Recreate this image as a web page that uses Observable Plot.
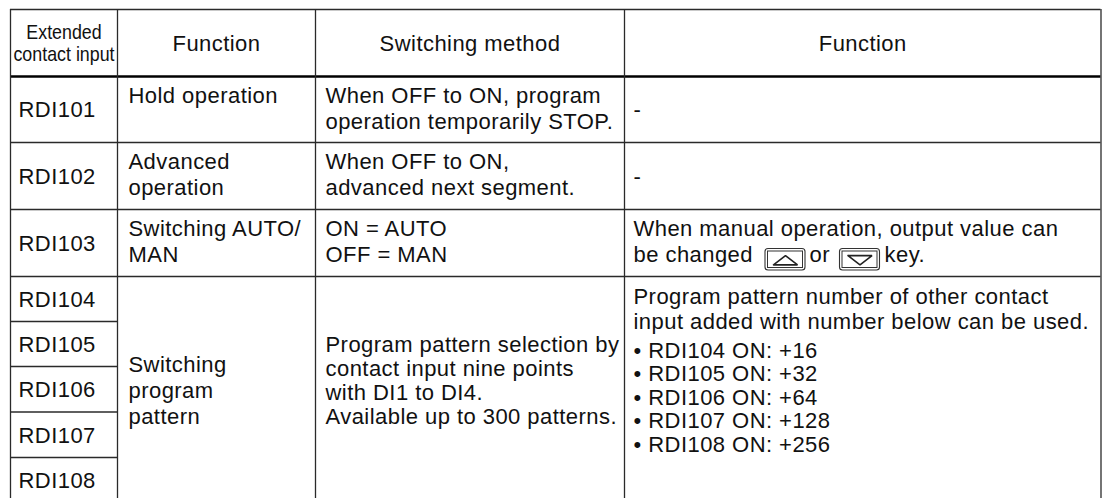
<!DOCTYPE html>
<html><head><meta charset="utf-8">
<script src="https://cdn.jsdelivr.net/npm/d3@7"></script>
<script src="https://cdn.jsdelivr.net/npm/@observablehq/plot@0.6"></script>
<style>body{margin:0;background:#fff}</style>
</head><body><div id="chart"></div>
<script>
// ---- table content ----
const headers = ["Extended\ncontact input", "Function", "Switching method", "Function"];
const inputs = ["RDI101", "RDI102", "RDI103", "RDI104", "RDI105", "RDI106", "RDI107", "RDI108"];
const functions = ["Hold operation", "Advanced\noperation", "Switching AUTO/\nMAN", "Switching\nprogram\npattern"];
const methods = [
  "When OFF to ON, program\noperation temporarily STOP.",
  "When OFF to ON,\nadvanced next segment.",
  "ON = AUTO\nOFF = MAN",
  "Program pattern selection by\ncontact input nine points\nwith DI1 to DI4.\nAvailable up to 300 patterns."
];
const notesSimple = ["-", "-"];
const noteManual = ["When manual operation, output value can", "be changed", "or", "key."];
const keys = ["up", "down"];
const noteIntro = ["Program pattern number of other contact", "input added with number below can be used."];
const addends = [16, 32, 64, 128, 256];

// ---- layout (not data) ----
const W = 1102, H = 498;
const colX = [10, 117, 315, 624, 1100.5];
const rowY = [9, 76, 142, 209, 276, 321, 366, 411.5, 457, 503];
const FS = 22, CAP = FS * 0.358;
const pad = [8, 11, 10, 9];

const texts = [];   // left aligned
const heads = [];   // centred
const narrow = [];
function put(arr, str, x, base, lh) {
  str.split("\n").forEach((t, i) => arr.push({x, y: base + i * lh, text: t}));
}
function centered(arr, str, x, top, bottom, lh, cap) {
  const n = str.split("\n").length;
  const c = (top + bottom) / 2 + cap;
  put(arr, str, x, c - (n - 1) / 2 * lh, lh);
}
// header
centered(narrow, headers[0], (colX[0] + colX[1]) / 2, rowY[0], rowY[1], 22, 7.4);
for (let j = 1; j < 4; j++) centered(heads, headers[j], (colX[j] + colX[j + 1]) / 2, rowY[0], rowY[1], 26, CAP);
// column 1: inputs
inputs.forEach((s, i) => centered(texts, s, colX[0] + pad[0], rowY[i + 1], rowY[i + 2], 26, CAP));
// rows 1-3
for (let r = 0; r < 3; r++) {
  put(texts, functions[r], colX[1] + pad[1], rowY[r + 1] + 26.5, 26);
  put(texts, methods[r], colX[2] + pad[2], rowY[r + 1] + 26.5, 26);
}
notesSimple.forEach((s, r) => centered(texts, s, colX[3] + pad[3], rowY[r + 1], rowY[r + 2], 26, CAP));
const mTop = rowY[3] + 26.5;
texts.push({x: colX[3] + pad[3], y: mTop, text: noteManual[0]});
const inlineX = [colX[3] + pad[3], 809, 884];
[1, 2, 3].forEach((k, i) => texts.push({x: inlineX[i], y: mTop + 26, text: noteManual[k]}));
// merged block rows 4-8
centered(texts, functions[3], colX[1] + pad[1], rowY[4], rowY[9], 26, CAP);
put(texts, methods[3], colX[2] + pad[2], 351, 24);
put(texts, noteIntro.join("\n"), colX[3] + pad[3], 303, 25.5);
addends.forEach((a, i) => texts.push({x: colX[3] + pad[3], y: 357 + i * 23.5, text: `\u2022 ${inputs[i + 3]} ON: +${a}`}));

// key icons
const keyBoxes = keys.map((k, i) => ({k, x1: [765, 839.5][i], x2: [805, 879.5][i], y1: 248.5, y2: 270}));
const tri = [];
keyBoxes.forEach((b, i) => {
  const cx = (b.x1 + b.x2) / 2, cy = (b.y1 + b.y2) / 2 + 0.5, hw = 12, hh = 4.6;
  const s = b.k === "up" ? 1 : -1;
  [[cx - hw, cy + s * hh], [cx, cy - s * hh], [cx + hw, cy + s * hh], [cx - hw, cy + s * hh]]
    .forEach(([x, y]) => tri.push({x, y, z: i}));
});

// grid lines
const hFull = [rowY[0], rowY[2], rowY[3], rowY[4]];
const hShort = rowY.slice(5, 9);
const LC = "#2a2a2a";

const chart = Plot.plot({
  width: W, height: H, margin: 0,
  x: {type: "identity", axis: null},
  y: {type: "identity", axis: null},
  style: {fontFamily: "'Liberation Sans', Arial, Helvetica, sans-serif", background: "#fff", overflow: "hidden"},
  marks: [
    Plot.ruleY(hFull, {y: d => d, x1: colX[0], x2: colX[4], stroke: LC, strokeWidth: 1.3}),
    Plot.ruleY(hShort, {y: d => d, x1: colX[0], x2: colX[1], stroke: LC, strokeWidth: 1.3}),
    Plot.ruleY([rowY[1]], {y: d => d, x1: colX[0], x2: colX[4], stroke: "#000", strokeWidth: 2.7}),
    Plot.ruleX(colX, {x: d => d, y1: rowY[0], y2: rowY[9], stroke: LC, strokeWidth: 1.3}),
    Plot.text(texts, {x: "x", y: "y", text: "text", textAnchor: "start", lineAnchor: "bottom",
      fontSize: FS, fill: "#111"}),
    Plot.text(heads, {x: "x", y: "y", text: "text", textAnchor: "middle", lineAnchor: "bottom",
      fontSize: FS, fill: "#111"}),
    Plot.text(narrow, {x: "x", y: "y", text: "text", textAnchor: "middle", lineAnchor: "bottom",
      fontSize: 21, fill: "#111"}),
    Plot.rect(keyBoxes, {x1: "x1", x2: "x2", y1: "y1", y2: "y2", rx: 3, fill: "none", stroke: "#333", strokeWidth: 1.1}),
    Plot.rect(keyBoxes, {x1: d => d.x1 + 2.5, x2: d => d.x2 - 2.5, y1: d => d.y1 + 2.5, y2: d => d.y2 - 2.5, fill: "none", stroke: "#333", strokeWidth: 1}),
    Plot.line(tri, {x: "x", y: "y", z: "z", stroke: "#222", strokeWidth: 1.6, strokeLinejoin: "miter"})
  ]
});
const textGroups = chart.querySelectorAll('g[aria-label="text"]');
[0, 1].forEach(i => textGroups[i] && textGroups[i].querySelectorAll("text").forEach(t => t.style.letterSpacing = "0.45px"));
if (textGroups[2]) textGroups[2].querySelectorAll("text").forEach(t => {
  const tr = t.getAttribute("transform");
  if (tr) t.setAttribute("transform", tr + " scale(0.85,1)");
  else {
    const x = +t.getAttribute("x") || 0, y = +t.getAttribute("y") || 0;
    t.removeAttribute("x"); t.removeAttribute("y");
    t.setAttribute("transform", `translate(${x},${y}) scale(0.85,1)`);
  }
});
document.getElementById("chart").appendChild(chart);
</script>
</body></html>
